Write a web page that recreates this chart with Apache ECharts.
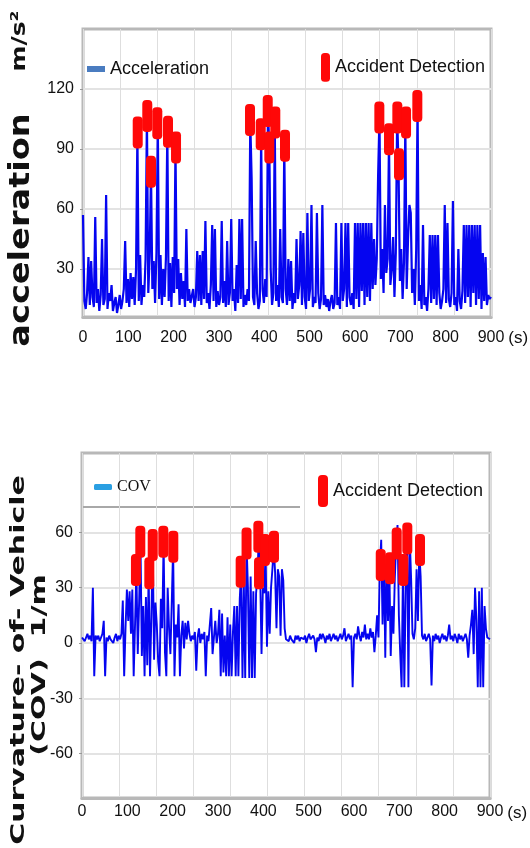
<!DOCTYPE html>
<html>
<head>
<meta charset="utf-8">
<script src="https://cdn.jsdelivr.net/npm/echarts@6/dist/echarts.min.js"></script>
<style>
  html, body { margin: 0; padding: 0; background: #fff; }
  #chart { width: 530px; height: 848px; }
</style>
</head>
<body>
<div id="chart"></div>
<script>
// sampling step of both traces, in seconds
var STEP = 3;

// acceleration (m/s^2), one value every 3 s from 0 to 900 s
var accValues = [
  57, 14, 10, 18, 36, 12, 34, 16, 11, 56,
  13, 20, 9, 17, 45, 12, 15, 67, 10, 18,
  14, 22, 9, 13, 16, 8, 12, 17, 10, 14,
  20, 44, 13, 25, 11, 28, 15, 26, 12, 30,
  98, 14, 37, 12, 22, 16, 35, 106, 18, 36,
  79, 20, 34, 13, 38, 103, 15, 37, 12, 30,
  16, 36, 99, 14, 33, 11, 36, 18, 91, 20,
  35, 12, 28, 15, 24, 11, 50, 14, 20, 13,
  13, 20, 11, 16, 39, 14, 37, 12, 39, 15,
  54, 13, 18, 10, 22, 52, 14, 50, 11, 19,
  12, 16, 54, 13, 24, 11, 44, 12, 18, 55,
  14, 20, 9, 32, 13, 55, 15, 55, 11, 17,
  12, 20, 14, 104, 75, 16, 12, 44, 18, 10,
  14, 97, 20, 13, 25, 16, 109, 91, 30, 12,
  18, 103, 14, 22, 11, 50, 16, 13, 92, 20,
  12, 35, 14, 34, 10, 18, 13, 45, 15, 22,
  49, 12, 48, 16, 10, 58, 14, 20, 62, 11,
  16, 13, 58, 18, 10, 15, 62, 12, 17, 11,
  15, 9, 14, 17, 10, 13, 53, 12, 16, 10,
  53, 14, 20, 53, 11, 53, 16, 12, 18, 10,
  53, 15, 53, 11, 53, 19, 53, 12, 53, 16,
  53, 14, 53, 20, 45, 22, 35, 77, 106, 25,
  40, 18, 62, 28, 35, 95, 22, 30, 46, 16,
  38, 106, 82, 24, 40, 15, 33, 103, 20, 45,
  62, 58, 18, 30, 12, 40, 112, 14, 22, 10,
  52, 12, 16, 9, 20, 47, 13, 47, 15, 47,
  12, 47, 18, 10, 14, 20, 62, 13, 53, 15,
  11, 18, 64, 12, 16, 9, 40, 14, 10, 19,
  52, 13, 52, 16, 52, 11, 52, 18, 52, 12,
  52, 15, 52, 10, 38, 14, 36, 12, 17, 15,
  16
];

// curvature of vehicle (1/m), one value every 3 s from 0 to 900 s
var covValues = [
  3, 4, 1, 3, 5, 2, 4, 1, 30, -18,
  4, 2, 4, 1, 3, 5, 12, -18, 3, 1,
  4, 2, 3, 0, 3, 5, 1, 4, 2, 5,
  23, -18, 8, 29, 12, 28, 5, 29, -18, 10,
  40, -6, 22, 55, -7, 20, -18, 25, -12, 38,
  -18, 14, 53, -9, 22, 10, -10, -18, 24, 8,
  55, -5, -18, 30, 8, -6, 22, 52, -18, 10,
  3, 21, -18, 4, 12, -3, 11, 2, 12, 5,
  1, 4, 2, 6, -15, 3, 8, 0, 5, 2,
  6, -18, 4, 1, 10, 19, -6, 3, 12, 0,
  5, 18, -18, 16, -16, 4, -18, 14, -18, 10,
  -18, 6, 20, -18, 20, -18, 24, 39, -19, 32,
  -19, 54, 30, -19, 36, -19, 28, -19, 27, 36,
  58, 38, -6, 30, 27, 50, -2, 28, 5, 30,
  40, 52, 38, 8, 40, 36, 4, 40, 34, 8,
  2, 3, 1, 4, 2, 3, 0, 4, 2, 4,
  1, 3, 4, 2, 4, 0, 3, 5, 2, 1,
  4, 2, -5, 3, 1, 5, 2, 5, 3, 0,
  4, 2, 5, 1, 3, 5, 2, 4, 1, 3,
  5, 2, 4, 8, 1, 3, 5, 2, 4, -24,
  3, 5, 2, 9, 4, 1, 6, 3, 10, 2,
  5, 2, 8, 3, 6, -5, 4, 15, 3, 42,
  56, 10, 47, -8, 45, 12, 40, -7, 20, 5,
  35, 54, 64, 15, -6, -24, 40, -24, 30, 65,
  -24, 57, 35, 5, 2, 8, 40, 12, 50, 36,
  4, 2, 5, 1, 3, 5, 2, -23, 4, 1,
  5, 2, 4, 0, 3, 5, 2, 4, 1, 4,
  10, 2, 4, 1, 5, 3, 0, 5, 2, 4,
  1, 3, 5, 2, -8, 4, 10, 18, -6, 30,
  12, -24, 28, -24, 30, -24, 20, 8, 3, 4,
  2
];

// accident detections (time in s, value on each chart)
var accidentTimeTop = [120.7, 141.8, 150, 163.9, 187.5, 205.2, 368.4, 392, 407.5, 411, 424.2, 445.6, 653.7, 675, 693.4, 697.1, 712.6, 737.5];
var accidentValueTop = [98.3, 106.5, 78.6, 102.9, 98.6, 90.8, 104.5, 97.4, 109, 90.8, 103.2, 91.6, 105.7, 94.9, 105.7, 82.4, 103.2, 111.5];
var accidentTimeBottom = [119, 128.6, 148.5, 156, 179.4, 201.4, 350, 363, 389, 390.5, 403.7, 423.5, 659, 679.5, 694.2, 708.8, 717.6, 745.6];
var accidentValueBottom = [39.6, 54.9, 37.8, 53.1, 54.9, 52.2, 38.6, 54, 57.6, 37.8, 50.4, 52.2, 42.3, 40.5, 54, 39.6, 56.7, 50.4];

// tick labels
var accTicks = [30, 60, 90, 120];
var covTicks = [-60, -30, 0, 30, 60];

var SANS = "'Liberation Sans', Arial, sans-serif";
var BLUE = '#0505f0';
var RED = '#ff0808';
var PILL = 'path://M4,0 L6,0 Q10,0 10,4 L10,28 Q10,32 6,32 L4,32 Q0,32 0,28 L0,4 Q0,0 4,0 Z';

function series(values) {
  return values.map(function (v, i) { return [i * STEP, v]; });
}
function zip(xs, ys) {
  return xs.map(function (x, i) { return [x, ys[i]]; });
}

function timeAxis(gridIndex, labelMargin, namePad) {
  return {
    type: 'value', gridIndex: gridIndex, min: 0, max: 900, interval: 100,
    axisLine: { onZero: false, lineStyle: { color: '#b8b8b8', width: 3 } },
    axisTick: { show: false },
    splitLine: { show: false },
    axisLabel: { color: '#111', fontFamily: SANS, fontSize: 16, margin: labelMargin },
    name: '(s)', nameLocation: 'end', nameGap: 16,
    nameTextStyle: { color: '#111', fontFamily: SANS, fontSize: 17, verticalAlign: 'top', padding: [namePad, 0, 0, 0] }
  };
}

// faint vertical grid of the original figure (not tied to the time labels)
function gridlineAxis(gridIndex) {
  return {
    type: 'value', gridIndex: gridIndex, min: 0, max: 11, interval: 1, position: 'bottom',
    axisLine: { show: false, onZero: false }, axisTick: { show: false }, axisLabel: { show: false },
    splitLine: { show: true, lineStyle: { color: '#dedede', width: 1 } }
  };
}

function valueAxis(gridIndex, min, max, ticks) {
  return {
    type: 'value', gridIndex: gridIndex, min: min, max: max,
    axisLine: { show: false },
    axisTick: { show: true, customValues: ticks, length: 3, lineStyle: { color: '#999' } },
    axisLabel: { customValues: ticks, color: '#111', fontFamily: SANS, fontSize: 16, margin: 9 },
    splitLine: { show: true, lineStyle: { color: '#e3e3e3', width: 2 } }
  };
}

function legendText(font, size) {
  return { fontFamily: font, fontSize: size, color: '#111' };
}

function titleText(text, x, y, size, stretch) {
  return {
    type: 'text', x: x, y: y, rotation: Math.PI / 2, scaleX: stretch,
    style: { text: text, fontFamily: 'DejaVu Sans', fontWeight: 'bold', fontSize: size, fill: '#111', align: 'center', verticalAlign: 'middle' }
  };
}

var chart = echarts.init(document.getElementById('chart'));
chart.setOption({
  animation: false,
  backgroundColor: '#fff',
  grid: [
    { left: 83, top: 29, width: 408, height: 288, show: true, borderColor: '#b8b8b8', borderWidth: 3 },
    { left: 82, top: 453, width: 408, height: 345, show: true, borderColor: '#b8b8b8', borderWidth: 3 }
  ],
  xAxis: [timeAxis(0, 13, 13), gridlineAxis(0), timeAxis(1, 6, 7), gridlineAxis(1)],
  yAxis: [valueAxis(0, 6, 150, accTicks), valueAxis(1, -84, 103, covTicks)],
  legend: [
    { data: [{ name: 'Acceleration', itemStyle: { color: '#4a7cc0' } }], left: 87, top: 60, padding: 0,
      icon: 'rect', itemWidth: 18, itemHeight: 6, selectedMode: false, textStyle: legendText(SANS, 18) },
    { data: ['Accident Detection'], left: 321, top: 53, padding: 0,
      icon: PILL, itemWidth: 9, itemHeight: 30, selectedMode: false, textStyle: legendText(SANS, 18) },
    { data: [{ name: 'COV', itemStyle: { color: '#2a9fe2' } }], left: 94, top: 479, padding: 0,
      icon: 'roundRect', itemWidth: 18, itemHeight: 6, selectedMode: false, textStyle: legendText("'Liberation Serif', serif", 16) },
    { data: ['Accident Detection'], left: 318, top: 475, padding: 0,
      icon: PILL, itemWidth: 10, itemHeight: 32, selectedMode: false, textStyle: legendText(SANS, 18) }
  ],
  graphic: [
    titleText('m/s\u00b2', 20, 41, 20, 1.25),
    titleText('acceleration', 22, 230, 28, 1.2),
    titleText('Curvature- of- Vehicle', 19, 660, 20, 1.5),
    titleText('(COV)  1/m', 40, 665, 20, 1.5),
    { type: 'line', shape: { x1: 82, y1: 507, x2: 300, y2: 507 }, style: { stroke: '#a8a8a8', lineWidth: 2 } }
  ],
  series: [
    { name: 'Acceleration', type: 'line', xAxisIndex: 0, yAxisIndex: 0, data: series(accValues),
      symbol: 'none', lineStyle: { color: BLUE, width: 2.2 }, itemStyle: { color: BLUE }, z: 3 },
    { name: 'Accident Detection', type: 'scatter', xAxisIndex: 0, yAxisIndex: 0, data: zip(accidentTimeTop, accidentValueTop),
      symbol: PILL, symbolSize: [10, 32], itemStyle: { color: RED, opacity: 1 }, z: 4 },
    { name: 'COV', type: 'line', xAxisIndex: 2, yAxisIndex: 1, data: series(covValues),
      symbol: 'none', lineStyle: { color: BLUE, width: 1.9 }, itemStyle: { color: BLUE }, z: 3 },
    { name: 'Accident Detection', type: 'scatter', xAxisIndex: 2, yAxisIndex: 1, data: zip(accidentTimeBottom, accidentValueBottom),
      symbol: PILL, symbolSize: [10, 32], itemStyle: { color: RED, opacity: 1 }, z: 4 }
  ]
});
</script>
</body>
</html>
